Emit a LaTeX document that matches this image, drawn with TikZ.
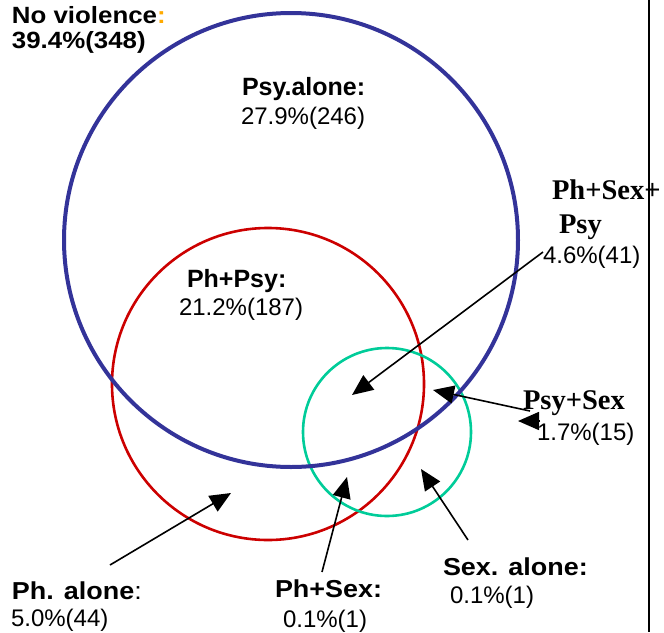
\documentclass[tikz,border=0pt]{standalone}
\usepackage{fontspec}
\setmainfont{Liberation Sans}
\newfontfamily\wsans{Liberation Sans}[FakeStretch=1.1]
\newfontfamily\tnr{Liberation Serif}
\usetikzlibrary{arrows.meta}
\definecolor{vblue}{RGB}{51,51,153}
\definecolor{vred}{RGB}{204,0,0}
\definecolor{vteal}{RGB}{0,204,153}
\definecolor{vorange}{RGB}{255,170,0}
\begin{document}
\begin{tikzpicture}[x=1pt,y=-1pt,
  lbl/.style={anchor=base west,inner sep=0pt,outer sep=0pt},
  hdA/.style={lbl,font=\wsans\fontsize{23.5}{27}\selectfont\bfseries},
  hdB/.style={lbl,font=\fontsize{25}{29}\selectfont\bfseries},
  hdC/.style={lbl,font=\wsans\fontsize{24.5}{28}\selectfont},
  hdT/.style={lbl,font=\tnr\fontsize{28.5}{32}\selectfont\bfseries},
  num/.style={lbl,font=\fontsize{24}{28}\selectfont},
  arr/.style={draw=black,line width=1.6pt,-{Triangle[length=21pt,width=18pt]}}]
\useasboundingbox (0,0) rectangle (664,632);
% circles
\draw[vred,line width=2.6pt] (268,384) circle[radius=156];
\draw[vteal,line width=2.6pt] (387,432) circle[radius=84];
\draw[vblue,line width=4pt] (291,240) circle[radius=227];
% right rule
\coordinate (vt) at (649,0);
\coordinate (vb) at (649,632);
\draw[line width=2.5pt] (vt) -- (vb);
% labels
\node[hdA] (nv) at (12,23) {No violence\textcolor{vorange}{:}};
\node[hdA] (nvp) at (12,48) {39.4\%(348)};
\node[hdB] (psy) at (242,95) {Psy.alone:};
\node[num] (psyp) at (241,124) {27.9\%(246)};
\node[hdB] (phpsy) at (187,287) {Ph+Psy:};
\node[num] (phpsyp) at (179,315) {21.2\%(187)};
\node[hdT] (all1) at (552,199) {Ph+Sex+};
\node[hdT] (all2) at (559,233) {Psy};
\node[num] (allp) at (543,263) {4.6\%(41)};
\node[hdT] (ps) at (523,409) {Psy+Sex};
\node[num] (psp) at (537,440) {1.7\%(15)};
\node[hdC] (pha) at (12,599) {\textbf{Ph. alone}:};
\node[num] (phap) at (11,626) {5.0\%(44)};
\node[hdC] (phs) at (275,597) {\textbf{Ph+Sex:}};
\node[num] (phsp) at (283,627) {0.1\%(1)};
\node[hdC] (sa) at (443,575) {\textbf{Sex. alone:}};
\node[num] (sap) at (450,603) {0.1\%(1)};
% arrow ends
\coordinate (a1s) at (543,252); \coordinate (a1t) at (352,395);
\coordinate (a2s) at (530,411); \coordinate (a2t) at (433,390);
\coordinate (a3s) at (540,421); \coordinate (a3t) at (518,421);
\coordinate (a4s) at (110,565); \coordinate (a4t) at (231,493);
\coordinate (a5s) at (322,572); \coordinate (a5t) at (347,477);
\coordinate (a6s) at (468,540); \coordinate (a6t) at (421,469);
\draw[arr] (a1s) -- (a1t);
\draw[arr] (a2s) -- (a2t);
\draw[arr] (a3s) -- (a3t);
\draw[arr] (a4s) -- (a4t);
\draw[arr] (a5s) -- (a5t);
\draw[arr] (a6s) -- (a6t);
\end{tikzpicture}
\end{document}
